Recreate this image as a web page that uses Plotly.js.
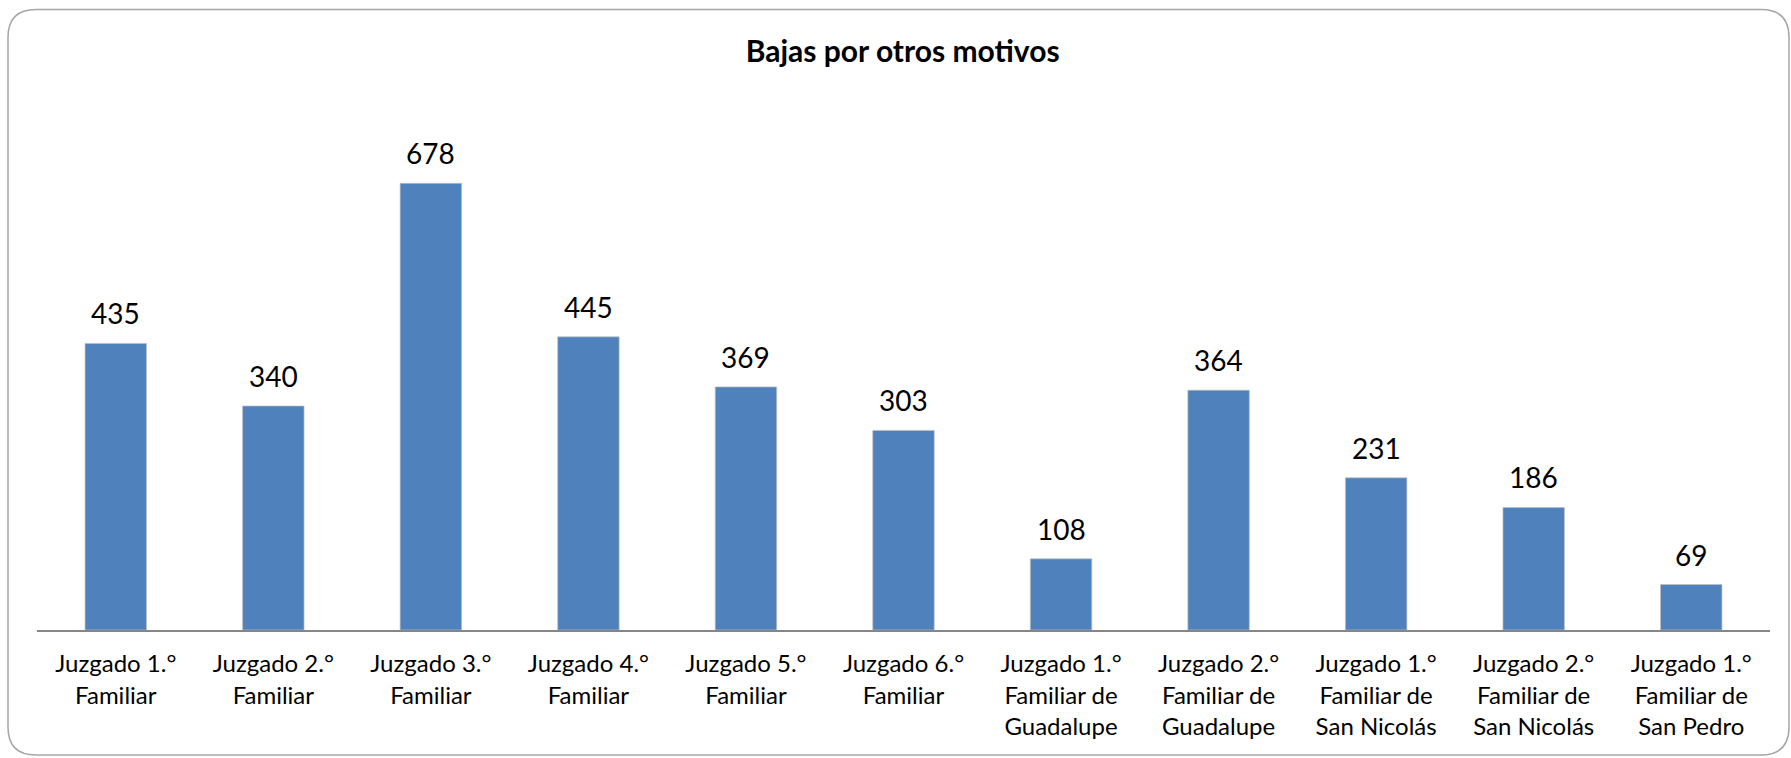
<!DOCTYPE html>
<html>
<head>
<meta charset="utf-8">
<script src="https://cdn.plot.ly/plotly-3.0.1.min.js"></script>
<style>html,body{margin:0;padding:0;background:#fff;}#chart{width:1791px;height:758px;}</style>
</head>
<body>
<div id="chart"></div>
<script>
const categories = [
  "Juzgado 1.°<br>Familiar",
  "Juzgado 2.°<br>Familiar",
  "Juzgado 3.°<br>Familiar",
  "Juzgado 4.°<br>Familiar",
  "Juzgado 5.°<br>Familiar",
  "Juzgado 6.°<br>Familiar",
  "Juzgado 1.°<br>Familiar de<br>Guadalupe",
  "Juzgado 2.°<br>Familiar de<br>Guadalupe",
  "Juzgado 1.°<br>Familiar de<br>San Nicolás",
  "Juzgado 2.°<br>Familiar de<br>San Nicolás",
  "Juzgado 1.°<br>Familiar de<br>San Pedro"
];
const values = [435, 340, 678, 445, 369, 303, 108, 364, 231, 186, 69];
const chartTitle = "Bajas por otros motivos";

const W = 1791, H = 758;
const margin = {l: 37, r: 21, t: 103, b: 128};
const pw = W - margin.l - margin.r, ph = H - margin.t - margin.b;
function px(x) { return (x - margin.l) / pw; }
function py(y) { return (H - margin.b - y) / ph; }

// rounded border
const x0 = 8, y0 = 9.5, x1 = 1789, y1 = 755, r = 28;
const path = [
  `M ${px(x0 + r)} ${py(y0)}`,
  `L ${px(x1 - r)} ${py(y0)}`,
  `Q ${px(x1)} ${py(y0)} ${px(x1)} ${py(y0 + r)}`,
  `L ${px(x1)} ${py(y1 - r)}`,
  `Q ${px(x1)} ${py(y1)} ${px(x1 - r)} ${py(y1)}`,
  `L ${px(x0 + r)} ${py(y1)}`,
  `Q ${px(x0)} ${py(y1)} ${px(x0)} ${py(y1 - r)}`,
  `L ${px(x0)} ${py(y0 + r)}`,
  `Q ${px(x0)} ${py(y0)} ${px(x0 + r)} ${py(y0)} Z`
].join(' ');

const font = "Lato, 'Open Sans', sans-serif";

const trace = {
  type: 'bar',
  x: categories,
  y: values,
  marker: {color: '#4F81BD', line: {color: 'rgba(190,190,190,0.7)', width: 1}},
  hoverinfo: 'x+y'
};

const annotations = values.map((v, i) => ({
  x: categories[i], y: v, xref: 'x', yref: 'y',
  text: String(v), showarrow: false, yanchor: 'bottom', yshift: 11,
  font: {family: font, size: 28, color: '#000'}
}));

const layout = {
  width: W, height: H,
  margin: margin,
  paper_bgcolor: '#fff', plot_bgcolor: '#fff',
  showlegend: false,
  bargap: 0.61,
  title: {
    text: '<b>' + chartTitle + '</b>',
    x: 0.504, xanchor: 'center', y: 1 - 51 / H, yanchor: 'middle',
    font: {family: font, size: 30, color: '#000'}
  },
  xaxis: {
    showline: true, linecolor: '#868686', linewidth: 1.5,
    ticks: '', showgrid: false, zeroline: false,
    tickfont: {family: font, size: 24, color: '#000'},
    tickangle: 0, automargin: false, ticklabelstandoff: 12
  },
  yaxis: {
    range: [0, 800], visible: false, showgrid: false, zeroline: false, fixedrange: true
  },
  annotations: annotations,
  shapes: [{
    type: 'path', xref: 'paper', yref: 'paper', path: path,
    line: {color: '#a6a6a6', width: 1.5}, fillcolor: 'rgba(0,0,0,0)', layer: 'below'
  }]
};

Plotly.newPlot('chart', [trace], layout, {displayModeBar: false, staticPlot: true});
</script>
</body>
</html>
